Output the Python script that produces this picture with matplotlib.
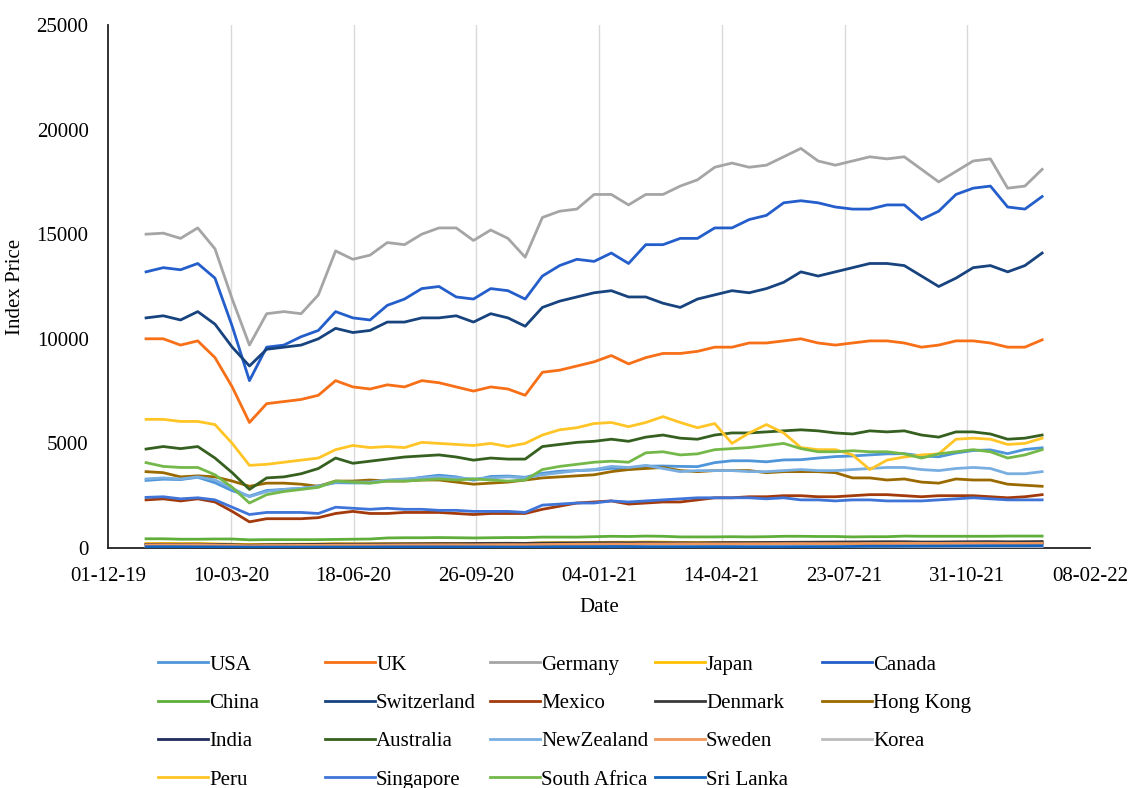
import matplotlib
matplotlib.use('Agg')
import matplotlib.pyplot as plt
import matplotlib.dates as mdates
import pandas as pd

plt.rcParams['font.family'] = ['Liberation Serif', 'DejaVu Serif']

# ---------------- data (USD index levels, ~every 2 weeks) ----------------
dates = pd.date_range('2020-01-01', '2021-12-31', periods=53)

usa = [3230, 3290, 3270, 3380, 3120, 2740, 2480, 2750, 2800, 2850, 2970, 3120, 3110, 3110, 3230, 3260, 3380, 3480,
       3400, 3240, 3420, 3440, 3380, 3570, 3670, 3700, 3730, 3810, 3750, 3910, 3920, 3900, 3890, 4080, 4170, 4170,
       4120, 4210, 4220, 4300, 4370, 4400, 4450, 4500, 4510, 4400, 4360, 4540, 4660, 4690, 4510, 4710, 4790]
uk = [10000, 10000, 9700, 9900, 9100, 7700, 6000, 6900, 7000, 7100, 7300, 8000, 7700, 7600, 7800, 7700, 8000, 7900,
      7700, 7500, 7700, 7600, 7300, 8400, 8500, 8700, 8900, 9200, 8800, 9100, 9300, 9300, 9400, 9600, 9600, 9800,
      9800, 9900, 10000, 9800, 9700, 9800, 9900, 9900, 9800, 9600, 9700, 9900, 9900, 9800, 9600, 9600, 9950]
germany = [15000, 15050, 14800, 15300, 14300, 11900, 9700, 11200, 11300, 11200, 12100, 14200, 13800, 14000, 14600,
           14500, 15000, 15300, 15300, 14700, 15200, 14800, 13900, 15800, 16100, 16200, 16900, 16900, 16400, 16900,
           16900, 17300, 17600, 18200, 18400, 18200, 18300, 18700, 19100, 18500, 18300, 18500, 18700, 18600, 18700,
           18100, 17500, 18000, 18500, 18600, 17200, 17300, 18100]
japan = [215, 220, 215, 215, 200, 180, 170, 175, 180, 185, 190, 210, 205, 205, 210, 210, 215, 220, 220, 220, 225,
         220, 220, 245, 255, 255, 265, 275, 275, 285, 280, 265, 265, 265, 265, 260, 260, 265, 265, 260, 255, 250,
         255, 255, 270, 265, 250, 255, 260, 260, 245, 250, 250]
canada = [13200, 13400, 13300, 13600, 12900, 10600, 8000, 9600, 9700, 10100, 10400, 11300, 11000, 10900, 11600,
          11900, 12400, 12500, 12000, 11900, 12400, 12300, 11900, 13000, 13500, 13800, 13700, 14100, 13600, 14500,
          14500, 14800, 14800, 15300, 15300, 15700, 15900, 16500, 16600, 16500, 16300, 16200, 16200, 16400, 16400,
          15700, 16100, 16900, 17200, 17300, 16300, 16200, 16800]
china = [440, 440, 420, 420, 430, 430, 390, 400, 400, 400, 400, 410, 420, 430, 480, 490, 490, 500, 490, 480, 490,
         500, 500, 520, 520, 520, 540, 560, 550, 570, 560, 530, 530, 530, 540, 530, 540, 560, 560, 550, 550, 530,
         540, 540, 570, 560, 560, 560, 560, 560, 570, 570, 570]
switzerland = [11000, 11100, 10900, 11300, 10700, 9600, 8700, 9500, 9600, 9700, 10000, 10500, 10300, 10400, 10800,
               10800, 11000, 11000, 11100, 10800, 11200, 11000, 10600, 11500, 11800, 12000, 12200, 12300, 12000,
               12000, 11700, 11500, 11900, 12100, 12300, 12200, 12400, 12700, 13200, 13000, 13200, 13400, 13600,
               13600, 13500, 13000, 12500, 12900, 13400, 13500, 13200, 13500, 14100]
mexico = [2300, 2350, 2250, 2350, 2200, 1750, 1250, 1400, 1400, 1400, 1450, 1650, 1750, 1650, 1650, 1700, 1700, 1700,
          1650, 1600, 1650, 1650, 1650, 1850, 2000, 2150, 2200, 2250, 2100, 2150, 2200, 2200, 2300, 2400, 2400, 2450,
          2450, 2500, 2500, 2450, 2450, 2500, 2550, 2550, 2500, 2450, 2500, 2500, 2500, 2450, 2400, 2450, 2550]
denmark = [175, 180, 178, 185, 170, 150, 140, 155, 160, 165, 175, 185, 185, 190, 195, 200, 205, 210, 210, 215, 220,
           225, 220, 235, 240, 245, 250, 255, 250, 255, 250, 250, 245, 255, 260, 260, 265, 270, 275, 280, 285, 290,
           295, 300, 300, 285, 285, 295, 300, 305, 295, 300, 310]
hong_kong = [3650, 3600, 3400, 3450, 3400, 3200, 2950, 3100, 3100, 3050, 2950, 3200, 3200, 3250, 3200, 3200, 3250,
             3250, 3150, 3050, 3100, 3150, 3250, 3350, 3400, 3450, 3500, 3650, 3750, 3800, 3850, 3700, 3650, 3700,
             3700, 3700, 3600, 3650, 3650, 3650, 3600, 3350, 3350, 3250, 3300, 3150, 3100, 3300, 3250, 3250, 3050,
             3000, 2950]
india = [170, 170, 168, 170, 158, 140, 115, 125, 125, 125, 125, 135, 135, 140, 145, 148, 152, 155, 155, 152, 158, 160,
         162, 172, 178, 185, 190, 195, 190, 205, 202, 205, 200, 200, 197, 202, 205, 212, 215, 212, 214, 212, 222, 224,
         235, 237, 238, 242, 238, 238, 230, 227, 230]
australia = [4730, 4850, 4750, 4850, 4300, 3600, 2800, 3350, 3400, 3550, 3800, 4300, 4050, 4150, 4250, 4350, 4400,
             4450, 4350, 4200, 4300, 4250, 4250, 4850, 4950, 5050, 5100, 5200, 5100, 5300, 5400, 5250, 5200, 5400,
             5500, 5500, 5550, 5600, 5650, 5600, 5500, 5450, 5600, 5550, 5600, 5400, 5300, 5550, 5550, 5450, 5200,
             5250, 5400]
new_zealand = [3300, 3350, 3300, 3400, 3250, 2850, 2450, 2700, 2800, 2850, 2950, 3150, 3150, 3150, 3250, 3300, 3350,
               3400, 3350, 3300, 3350, 3400, 3350, 3500, 3600, 3700, 3750, 3900, 3850, 3950, 3800, 3650, 3700, 3700,
               3700, 3650, 3650, 3700, 3750, 3700, 3700, 3750, 3800, 3850, 3850, 3750, 3700, 3800, 3850, 3800, 3550,
               3550, 3650]
sweden = [150, 155, 153, 158, 145, 125, 110, 120, 120, 125, 130, 140, 140, 142, 145, 150, 152, 155, 155, 152, 158,
          160, 158, 168, 172, 180, 185, 190, 186, 195, 195, 200, 200, 200, 200, 202, 205, 210, 212, 210, 212, 212,
          218, 220, 225, 222, 220, 225, 228, 228, 222, 220, 225]
korea = [1.9, 1.9, 1.85, 1.9, 1.7, 1.6, 1.4, 1.5, 1.55, 1.6, 1.6, 1.75, 1.75, 1.75, 1.8, 1.85, 1.95, 2.0, 2.0, 2.0,
         2.05, 2.05, 2.1, 2.25, 2.45, 2.5, 2.55, 2.85, 2.8, 2.85, 2.7, 2.65, 2.65, 2.75, 2.8, 2.8, 2.8, 2.9, 2.9, 2.9,
         2.85, 2.8, 2.75, 2.75, 2.75, 2.65, 2.55, 2.55, 2.55, 2.55, 2.4, 2.5, 2.5]
peru = [6150, 6150, 6050, 6050, 5900, 5000, 3950, 4000, 4100, 4200, 4300, 4700, 4900, 4800, 4850, 4800, 5050, 5000,
        4950, 4900, 5000, 4850, 5000, 5400, 5650, 5750, 5950, 6000, 5800, 6000, 6280, 6000, 5750, 5950, 5000, 5500,
        5900, 5500, 4800, 4700, 4700, 4450, 3750, 4200, 4350, 4450, 4500, 5200, 5250, 5200, 4950, 5000, 5250]
singapore = [2420, 2450, 2350, 2400, 2300, 1950, 1600, 1700, 1700, 1700, 1650, 1950, 1900, 1850, 1900, 1850, 1850,
             1800, 1800, 1750, 1750, 1750, 1700, 2050, 2100, 2150, 2150, 2250, 2200, 2250, 2300, 2350, 2400, 2400,
             2400, 2400, 2350, 2400, 2300, 2300, 2250, 2300, 2300, 2250, 2250, 2250, 2300, 2350, 2400, 2350, 2300,
             2300, 2300]
south_africa = [4080, 3900, 3850, 3850, 3500, 2900, 2150, 2550, 2700, 2800, 2900, 3200, 3150, 3100, 3200, 3200, 3250,
                3300, 3250, 3300, 3250, 3200, 3250, 3750, 3900, 4000, 4100, 4150, 4100, 4550, 4600, 4450, 4500, 4700,
                4750, 4800, 4900, 5000, 4750, 4600, 4600, 4650, 4600, 4600, 4500, 4300, 4500, 4600, 4700, 4600, 4300,
                4450, 4700]
sri_lanka = [60, 60, 58, 56, 54, 48, 44, 44, 44, 44, 44, 46, 46, 48, 52, 54, 54, 54, 54, 52, 50, 48, 48, 52, 58, 60,
             62, 70, 68, 62, 60, 62, 62, 64, 62, 60, 62, 64, 66, 68, 68, 75, 82, 82, 86, 90, 93, 96, 100, 104, 104,
             104, 108]

countries = ['USA', 'UK', 'Germany', 'Japan', 'Canada', 'China', 'Switzerland', 'Mexico', 'Denmark', 'Hong Kong',
             'India', 'Australia', 'NewZealand', 'Sweden', 'Korea', 'Peru', 'Singapore', 'South Africa', 'Sri Lanka']
series = [usa, uk, germany, japan, canada, china, switzerland, mexico, denmark, hong_kong,
          india, australia, new_zealand, sweden, korea, peru, singapore, south_africa, sri_lanka]
colors = ['#4E95D9', '#F76F16', '#A5A5A5', '#FFC000', '#235ECB', '#5FAE3A', '#17437E', '#A33A0C', '#3A3A3A',
          '#9A6A00', '#1F2D5C', '#35601F', '#78AEE0', '#F1975A', '#BCBCBC', '#FFC526', '#3F74D8', '#74B84A',
          '#1463BF']

x_ticks = pd.date_range('2019-12-01', periods=9, freq='100D')

# ---------------- figure ----------------
fig = plt.figure(figsize=(11.32, 7.88), dpi=100)
ax = fig.add_axes([108 / 1132, 1 - 548 / 788, (1090 - 108) / 1132, (548 - 25) / 788])

for t in x_ticks[1:-1]:
    ax.axvline(t, color='#D9D9D9', lw=1.0, zorder=0)

handles = {}
for name, vals, col in zip(countries, series, colors):
    ln, = ax.plot(dates, vals, color=col, lw=2.0, solid_joinstyle='round', label=name, zorder=3)
    handles[name] = ln

ax.set_xlim(pd.Timestamp('2019-12-01'), pd.Timestamp('2022-02-08'))
ax.set_ylim(0, 25000)
ax.set_xticks(x_ticks)
ax.xaxis.set_major_formatter(mdates.DateFormatter('%d-%m-%y'))
ax.set_yticks(range(0, 25001, 5000))
ax.tick_params(length=0, labelsize=15)
ax.tick_params(axis='y', pad=14)
ax.tick_params(axis='x', pad=14)
for s in ['top', 'right']:
    ax.spines[s].set_visible(False)
for s in ['left', 'bottom']:
    ax.spines[s].set_color('#222222')
    ax.spines[s].set_linewidth(1.3)
    ax.spines[s].set_zorder(2)

ax.set_xlabel('Date', fontsize=15, labelpad=8)
ax.set_ylabel('Index Price', fontsize=15, labelpad=8)

# legend: 5 equally spaced columns, row-major order as in the original
col_x = [158, 325, 490, 655, 822]
for c in range(5):
    names = countries[c::5]
    fig.legend([handles[n] for n in names], names, loc='upper left',
               bbox_to_anchor=(col_x[c] / 1132, 1 - 655 / 788), frameon=False, fontsize=15,
               handlelength=2.4, handletextpad=0.05, labelspacing=0.9, borderpad=0, borderaxespad=0)

fig.savefig('out.png', dpi=100)
